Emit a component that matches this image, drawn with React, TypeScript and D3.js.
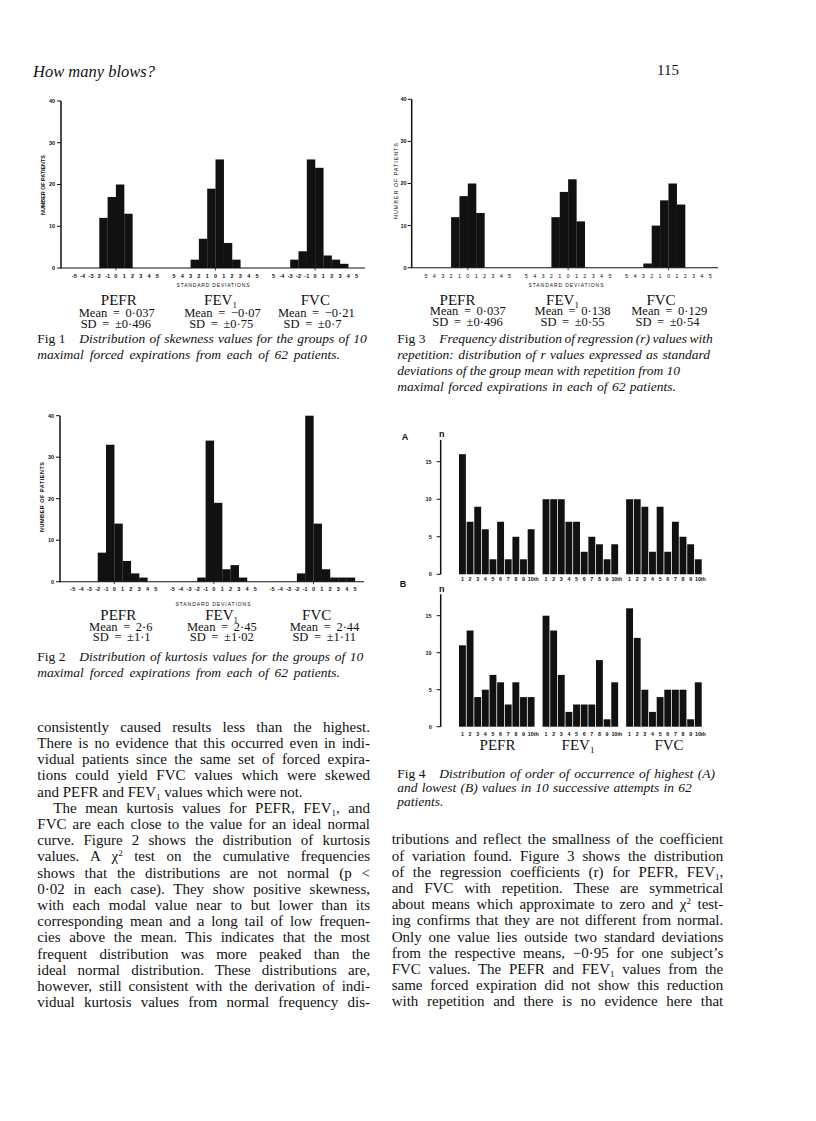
import React, { useLayoutEffect, useRef } from "react";
import * as d3 from "d3";

// ---------------- DATA ----------------
const seriesNames = ["PEFR", "FEV₁", "FVC"];
const sdBinStarts = [-5, -4, -3, -2, -1, 0, 1, 2, 3, 4]; // bins [v, v+1]
const sdTickValues = [-5, -4, -3, -2, -1, 0, 1, 2, 3, 4, 5];
const countTicks = [0, 10, 20, 30, 40];

// Fig 1: skewness
const fig1Pefr = [0, 0, 0, 12, 17, 20, 13, 0, 0, 0];
const fig1Fev1 = [0, 0, 2, 7, 19, 26, 6, 2, 0, 0];
const fig1Fvc = [0, 0, 2, 4, 26, 24, 3, 2, 1, 0];
const fig1Means = ["0·037", "−0·07", "−0·21"];
const fig1Sds = ["±0·496", "±0·75", "±0·7"];
const fig1TickLabels = [
  ["-5", "-4", "-3", "2", "-1", "0", "1", "2", "3", "4", "5"],
  ["5", "4", "3", "2", "1", "0", "1", "2", "3", "4", "5"],
  ["5", "-4", "-3", "-2", "-1", "0", "1", "2", "3", "4", "5"],
];

// Fig 2: kurtosis
const fig2Pefr = [0, 0, 0, 7, 33, 14, 5, 2, 1, 0];
const fig2Fev1 = [0, 0, 0, 1, 34, 19, 3, 4, 1, 0];
const fig2Fvc = [0, 0, 0, 2, 40, 14, 3, 1, 1, 1];
const fig2Means = ["2·6", "2·45", "2·44"];
const fig2Sds = ["±1·1", "±1·02", "±1·11"];
const fig2TickLabels = [
  ["-5", "-4", "-3", "-2", "-1", "0", "1", "2", "3", "4", "5"],
  ["-5", "-4", "-3", "-2", "-1", "0", "1", "2", "3", "4", "5"],
  ["-5", "-4", "-3", "-2", "-1", "0", "1", "2", "3", "4", "5"],
];

// Fig 3: regression
const fig3Pefr = [0, 0, 0, 12, 17, 20, 13, 0, 0, 0];
const fig3Fev1 = [0, 0, 0, 12, 18, 21, 11, 0, 0, 0];
const fig3Fvc = [0, 0, 1, 10, 16, 20, 15, 0, 0, 0];
const fig3Means = ["0·037", "0·138", "0·129"];
const fig3Sds = ["±0·496", "±0·55", "±0·54"];
const fig3TickLabels = [
  ["5", "4", "3", "2", "1", "0", "1", "2", "3", "4", "5"],
  ["5", "4", "3", "2", "1", "0", "1", "2", "3", "4", "5"],
  ["5", "4", "3", "2", "1", "0", "1", "2", "3", "4", "5"],
];

// Fig 4: order of occurrence of highest (A) and lowest (B)
const attemptLabels = ["1", "2", "3", "4", "5", "6", "7", "8", "9", "10th"];
const nTicks = [0, 5, 10, 15];
const fig4HighPefr = [16, 7, 9, 6, 2, 7, 2, 5, 2, 6];
const fig4HighFev1 = [10, 10, 10, 7, 7, 3, 5, 4, 2, 4];
const fig4HighFvc = [10, 10, 9, 3, 9, 3, 7, 5, 4, 2];
const fig4LowPefr = [11, 13, 4, 5, 7, 6, 3, 6, 4, 4];
const fig4LowFev1 = [15, 13, 7, 2, 3, 3, 3, 9, 1, 6];
const fig4LowFvc = [16, 12, 5, 2, 4, 5, 5, 5, 1, 6];

// Text
const bodyLeft = [
  "consistently caused results less than the highest.",
  "There is no evidence that this occurred even in indi-",
  "vidual patients since the same set of forced expira-",
  "tions could yield FVC values which were skewed",
  "and PEFR and FEV₁ values which were not.",
  "The mean kurtosis values for PEFR, FEV₁, and",
  "FVC are each close to the value for an ideal normal",
  "curve. Figure 2 shows the distribution of kurtosis",
  "values. A χ² test on the cumulative frequencies",
  "shows that the distributions are not normal (p <",
  "0·02 in each case). They show positive skewness,",
  "with each modal value near to but lower than its",
  "corresponding mean and a long tail of low frequen-",
  "cies above the mean. This indicates that the most",
  "frequent distribution was more peaked than the",
  "ideal normal distribution. These distributions are,",
  "however, still consistent with the derivation of indi-",
  "vidual kurtosis values from normal frequency dis-",
];
const bodyRight = [
  "tributions and reflect the smallness of the coefficient",
  "of variation found. Figure 3 shows the distribution",
  "of the regression coefficients (r) for PEFR, FEV₁,",
  "and FVC with repetition. These are symmetrical",
  "about means which approximate to zero and χ² test-",
  "ing confirms that they are not different from normal.",
  "Only one value lies outside two standard deviations",
  "from the respective means, −0·95 for one subject’s",
  "FVC values. The PEFR and FEV₁ values from the",
  "same forced expiration did not show this reduction",
  "with repetition and there is no evidence here that",
];

// ---------------- HELPERS ----------------
const INK = "#111";
const SERIF = "'Liberation Serif', 'Times New Roman', serif";
const SANS = "'Liberation Sans', Arial, sans-serif";

function rich(s: string, size: number) {
  const out: React.ReactNode[] = [];
  let buf = "";
  let off = 0;
  let k = 0;
  for (const ch of Array.from(s)) {
    if (ch === "₁" || ch === "²") {
      if (buf) {
        out.push(<tspan key={k++} dy={-off}>{buf}</tspan>);
        off = 0;
        buf = "";
      }
      const sh = ch === "₁" ? size * 0.2 : -size * 0.36;
      out.push(
        <tspan key={k++} dy={sh - off} fontSize={size * 0.6}>
          {ch === "₁" ? "1" : "2"}
        </tspan>
      );
      off = sh;
    } else buf += ch;
  }
  if (buf) out.push(<tspan key={k++} dy={-off}>{buf}</tspan>);
  return out;
}

function JLine(props: {
  x: number;
  y: number;
  x2?: number;
  size: number;
  italic?: boolean;
  anchor?: string;
  ws?: number;
  text: string;
}) {
  const { x, y, x2, size, italic, anchor, ws, text } = props;
  const ref = useRef<SVGTextElement>(null);
  useLayoutEffect(() => {
    const el = ref.current;
    if (!el || x2 == null) return;
    el.style.wordSpacing = "0px";
    const natural = el.getComputedTextLength();
    const spaces = (el.textContent || "").split(" ").length - 1;
    if (spaces > 0) el.style.wordSpacing = `${(x2 - x - natural) / spaces}px`;
  });
  return (
    <text
      ref={ref}
      x={x}
      y={y}
      fontSize={size}
      fontFamily={SERIF}
      fontStyle={italic ? "italic" : undefined}
      textAnchor={anchor}
      style={ws != null ? { wordSpacing: `${ws}px` } : undefined}
      fill={INK}
    >
      {rich(text, size)}
    </text>
  );
}

type HistCfg = {
  data: number[][];
  ticks: string[][];
  means: string[];
  sds: string[];
  x5: number;
  step: number;
  y0: number;
  y40: number;
  axisX: number;
  axisEnd: number;
  tickLabelRight: number;
  tickTextY: number;
  yTitle: { x: number; y: number; len: number };
  sdTitle: { x: number; y: number; len: number };
  nameY: number;
  nameCenters: number[];
  meanY: number;
  sdY: number;
  meanCenters: number[];
  sdCenters: number[];
  bold: boolean;
};

function Histogram({ c }: { c: HistCfg }) {
  const x = d3.scaleLinear().domain([-5, 29]).range([c.x5, c.x5 + 34 * c.step]);
  const y = d3.scaleLinear().domain([0, 40]).range([c.y0, c.y40]);
  const pos = (g: number, v: number) => x(g * 12 + v);
  const fw = c.bold ? 700 : 400;
  return (
    <g>
      {c.data.map((arr, g) =>
        arr.map((n, i) =>
          n > 0 ? (
            <rect
              key={`${g}-${i}`}
              x={pos(g, sdBinStarts[i])}
              y={y(n)}
              width={pos(g, sdBinStarts[i] + 1) - pos(g, sdBinStarts[i]) + 0.15}
              height={y(0) - y(n)}
              fill={INK}
            />
          ) : null
        )
      )}
      <line x1={c.axisX} x2={c.axisEnd} y1={y(0)} y2={y(0)} stroke={INK} strokeWidth={1.1} />
      <line x1={c.axisX} x2={c.axisX} y1={y(0) + 0.5} y2={y(40)} stroke={INK} strokeWidth={1.5} />
      {countTicks.map((t) => (
        <g key={t}>
          <line x1={c.axisX - 4} x2={c.axisX} y1={y(t)} y2={y(t)} stroke={INK} strokeWidth={1} />
          <text
            x={c.tickLabelRight}
            y={y(t)}
            dy="0.35em"
            textAnchor="end"
            fontSize={5.5}
            fontWeight={700}
            fontFamily={SANS}
            fill={INK}
          >
            {t}
          </text>
        </g>
      ))}
      {[0, 1, 2].map((g) => (
        <g key={`t${g}`}>
          <line x1={pos(g, 0)} x2={pos(g, 0)} y1={y(0)} y2={y(0) + 2.5} stroke={INK} strokeWidth={0.8} />
          {sdTickValues.map((v, i) => (
            <text
              key={v}
              x={pos(g, v)}
              y={c.tickTextY}
              textAnchor="middle"
              fontSize={5.5}
              fontWeight={fw}
              fontFamily={SANS}
              fill={INK}
            >
              {c.ticks[g][i]}
            </text>
          ))}
        </g>
      ))}
      <text
        transform={`translate(${c.yTitle.x},${c.yTitle.y}) rotate(-90)`}
        textAnchor="middle"
        fontSize={5.5}
        fontWeight={fw}
        fontFamily={SANS}
        textLength={c.yTitle.len}
        lengthAdjust="spacing"
        fill={INK}
      >
        NUMBER OF PATIENTS
      </text>
      <text
        x={c.sdTitle.x}
        y={c.sdTitle.y}
        textAnchor="middle"
        fontSize={5}
        fontFamily={SANS}
        textLength={c.sdTitle.len}
        lengthAdjust="spacing"
        fill={INK}
      >
        STANDARD DEVIATIONS
      </text>
      {seriesNames.map((name, g) => (
        <g key={name}>
          <JLine x={c.nameCenters[g]} y={c.nameY} size={15} anchor="middle" text={name} />
          <JLine
            x={c.meanCenters[g]}
            y={c.meanY}
            size={12.5}
            anchor="middle"
            ws={2.5}
            text={`Mean = ${c.means[g]}`}
          />
          <JLine x={c.sdCenters[g]} y={c.sdY} size={12.5} anchor="middle" ws={2.5} text={`SD = ${c.sds[g]}`} />
        </g>
      ))}
    </g>
  );
}

function OrderChart({
  data,
  y0,
  y15,
  letter,
  letterPos,
  labelY,
  showNames,
}: {
  data: number[][];
  y0: number;
  y15: number;
  letter: string;
  letterPos: number[];
  labelY: number;
  showNames: boolean;
}) {
  const gx = d3.scaleBand<number>().domain([0, 1, 2]).range([459, 701.7]).paddingInner(0.096);
  const bx = d3
    .scaleBand<number>()
    .domain(d3.range(10))
    .range([0, gx.bandwidth()])
    .paddingInner(0.1);
  const y = d3.scaleLinear().domain([0, 15]).range([y0, y15]);
  const axisX = 440.7;
  const nameCenters = [497.5, 578, 669];
  return (
    <g>
      {data.map((arr, g) =>
        arr.map((n, i) => (
          <rect
            key={`${g}-${i}`}
            x={(gx(g) as number) + (bx(i) as number)}
            y={y(n)}
            width={bx.bandwidth()}
            height={y(0) - y(n)}
            fill={INK}
          />
        ))
      )}
      <line x1={axisX} x2={axisX} y1={y(0)} y2={y(17.9)} stroke={INK} strokeWidth={1.5} />
      {nTicks.map((t) => (
        <g key={t}>
          <line x1={axisX - 4} x2={axisX} y1={y(t)} y2={y(t)} stroke={INK} strokeWidth={1} />
          <text
            x={431.7}
            y={y(t)}
            dy="0.35em"
            textAnchor="end"
            fontSize={5.5}
            fontWeight={700}
            fontFamily={SANS}
            fill={INK}
          >
            {t}
          </text>
        </g>
      ))}
      <text x={axisX + 1} y={y(17.9) - 2.5} textAnchor="middle" fontSize={9} fontWeight={700} fontFamily={SANS} fill={INK}>
        n
      </text>
      <text
        x={letterPos[0]}
        y={letterPos[1]}
        dy="0.35em"
        textAnchor="middle"
        fontSize={9}
        fontWeight={700}
        fontFamily={SANS}
        fill={INK}
      >
        {letter}
      </text>
      {[0, 1, 2].map((g) =>
        attemptLabels.map((lab, i) => {
          const cx = (gx(g) as number) + (bx(i) as number) + bx.bandwidth() / 2;
          const last = i === attemptLabels.length - 1;
          return (
            <text
              key={`${g}-${lab}`}
              x={last ? cx - 3.3 : cx}
              y={labelY}
              textAnchor={last ? "start" : "middle"}
              fontSize={5.3}
              fontWeight={700}
              fontFamily={SANS}
              fill={INK}
            >
              {lab}
            </text>
          );
        })
      )}
      {showNames &&
        seriesNames.map((name, g) => (
          <JLine key={name} x={nameCenters[g]} y={749.5} size={15} anchor="middle" text={name} />
        ))}
    </g>
  );
}

function Caption({
  fig,
  x,
  xi,
  lines,
  ys,
}: {
  fig: string;
  x: number;
  xi: number;
  lines: { t: string; end?: number }[];
  ys: number[];
}) {
  return (
    <g>
      <text x={x} y={ys[0]} fontSize={13.5} fontFamily={SERIF} fill={INK}>
        {fig}
      </text>
      {lines.map((l, i) => (
        <JLine key={i} x={i === 0 ? xi : x} x2={l.end} y={ys[i]} size={13.5} italic text={l.t} />
      ))}
    </g>
  );
}

// ---------------- APP ----------------
export default function App() {
  const fig1: HistCfg = {
    data: [fig1Pefr, fig1Fev1, fig1Fvc],
    ticks: fig1TickLabels,
    means: fig1Means,
    sds: fig1Sds,
    x5: 74.4,
    step: 8.3,
    y0: 268,
    y40: 101,
    axisX: 61,
    axisEnd: 365,
    tickLabelRight: 55,
    tickTextY: 278,
    yTitle: { x: 45, y: 185, len: 60 },
    sdTitle: { x: 213, y: 287, len: 73 },
    nameY: 305,
    nameCenters: [118.8, 220.5, 315.3],
    meanY: 316.5,
    sdY: 327.5,
    meanCenters: [116.7, 222.5, 316.3],
    sdCenters: [115.8, 221.2, 312.5],
    bold: true,
  };
  const fig2: HistCfg = {
    data: [fig2Pefr, fig2Fev1, fig2Fvc],
    ticks: fig2TickLabels,
    means: fig2Means,
    sds: fig2Sds,
    x5: 72.8,
    step: 8.3,
    y0: 581.7,
    y40: 415.7,
    axisX: 60,
    axisEnd: 364,
    tickLabelRight: 54,
    tickTextY: 590.5,
    yTitle: { x: 43.5, y: 497, len: 70 },
    sdTitle: { x: 213, y: 605.5, len: 75 },
    nameY: 619.5,
    nameCenters: [118.3, 221.7, 316.7],
    meanY: 630.5,
    sdY: 641,
    meanCenters: [120.8, 221.8, 324.5],
    sdCenters: [121.7, 221.8, 324.2],
    bold: true,
  };
  const fig3: HistCfg = {
    data: [fig3Pefr, fig3Fev1, fig3Fvc],
    ticks: fig3TickLabels,
    means: fig3Means,
    sds: fig3Sds,
    x5: 426,
    step: 8.36,
    y0: 267.7,
    y40: 99.3,
    axisX: 411.7,
    axisEnd: 718,
    tickLabelRight: 406.5,
    tickTextY: 277.5,
    yTitle: { x: 397.5, y: 181, len: 76 },
    sdTitle: { x: 566, y: 287, len: 75 },
    nameY: 305,
    nameCenters: [457.5, 562.5, 661],
    meanY: 315,
    sdY: 326,
    meanCenters: [467.8, 572.5, 669.2],
    sdCenters: [467.5, 572.5, 667.5],
    bold: false,
  };

  return (
    <svg
      width={816}
      height={1121}
      viewBox="0 0 816 1121"
      style={{ position: "absolute", left: 0, top: 0, background: "#fff" }}
    >
      <rect x={0} y={0} width={816} height={1121} fill="#fff" />
      <text x={33} y={77} fontSize={16.5} fontStyle="italic" fontFamily={SERIF} fill={INK}>
        How many blows?
      </text>
      <text x={657} y={75} fontSize={15} fontFamily={SERIF} fill={INK}>
        115
      </text>

      <Histogram c={fig1} />
      <Caption
        fig="Fig 1"
        x={37.3}
        xi={79.3}
        ys={[343.3, 359.3]}
        lines={[
          { t: "Distribution of skewness values for the groups of 10", end: 366.7 },
          { t: "maximal forced expirations from each of 62 patients.", end: 340 },
        ]}
      />

      <Histogram c={fig3} />
      <Caption
        fig="Fig 3"
        x={397.3}
        xi={439.3}
        ys={[343.3, 359.3, 375.2, 391]}
        lines={[
          { t: "Frequency distribution of regression (r) values with", end: 712.7 },
          { t: "repetition: distribution of r values expressed as standard", end: 710 },
          { t: "deviations of the group mean with repetition from 10", end: 680 },
          { t: "maximal forced expirations in each of 62 patients.", end: 676 },
        ]}
      />

      <Histogram c={fig2} />
      <Caption
        fig="Fig 2"
        x={37.3}
        xi={79.3}
        ys={[661, 677]}
        lines={[
          { t: "Distribution of kurtosis values for the groups of 10", end: 363.3 },
          { t: "maximal forced expirations from each of 62 patients.", end: 340 },
        ]}
      />

      <OrderChart
        data={[fig4HighPefr, fig4HighFev1, fig4HighFvc]}
        y0={574.3}
        y15={461.7}
        letter="A"
        letterPos={[405, 437]}
        labelY={581}
        showNames={false}
      />
      <OrderChart
        data={[fig4LowPefr, fig4LowFev1, fig4LowFvc]}
        y0={726.7}
        y15={615.7}
        letter="B"
        letterPos={[403, 584]}
        labelY={736}
        showNames={true}
      />
      <Caption
        fig="Fig 4"
        x={397.3}
        xi={439.3}
        ys={[777.7, 792, 806]}
        lines={[
          { t: "Distribution of order of occurrence of highest (A)", end: 715 },
          { t: "and lowest (B) values in 10 successive attempts in 62", end: 691.7 },
          { t: "patients." },
        ]}
      />

      {bodyLeft.map((t, i) => (
        <JLine
          key={`l${i}`}
          x={i === 5 ? 53.3 : 37.3}
          x2={i === 4 ? undefined : 370}
          y={731.7 + 16.2 * i}
          size={15}
          text={t}
        />
      ))}
      {bodyRight.map((t, i) => (
        <JLine key={`r${i}`} x={391.7} x2={723.3} y={844.3 + 16.2 * i} size={15} text={t} />
      ))}
    </svg>
  );
}
